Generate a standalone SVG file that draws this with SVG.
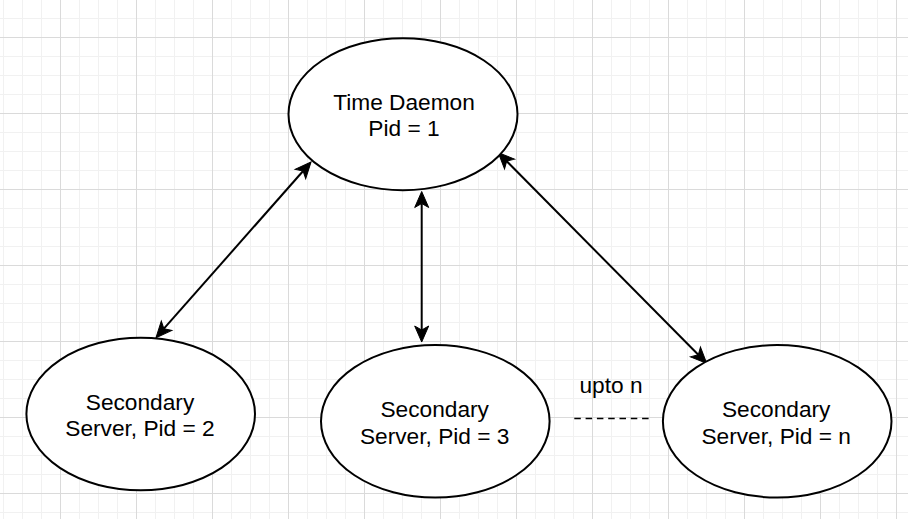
<svg xmlns="http://www.w3.org/2000/svg" width="908" height="519" viewBox="0 0 908 519">
  <defs>
    <pattern id="grid" patternUnits="userSpaceOnUse" x="-16" y="-39" width="76" height="76">
      <path d="M19.5,0V76M38.5,0V76M57.5,0V76M0,19.5H76M0,38.5H76M0,57.5H76" stroke="#f1f1f1" stroke-width="1" fill="none"/>
      <path d="M0.5,0V76M0,0.5H76" stroke="#dadada" stroke-width="1" fill="none"/>
    </pattern>
    <marker id="arrow" markerUnits="userSpaceOnUse" viewBox="-6 -9 20 18" markerWidth="20" markerHeight="18" refX="0" refY="0" orient="auto-start-reverse" overflow="visible">
      <path d="M12,0 L-4,-7 L0,0 L-4,7 Z" fill="#000" stroke="#000" stroke-width="1" stroke-linejoin="miter"/>
    </marker>
    <style>
      .node ellipse { fill: #ffffff; stroke: #000000; stroke-width: 2; }
      .label { font-family: "Liberation Sans", Arial, sans-serif; font-size: 22.7px; fill: #000000; text-anchor: middle; }
      .edge { stroke: #000000; stroke-width: 2; fill: none; marker-start: url(#arrow); marker-end: url(#arrow); }
    </style>
  </defs>
  <rect x="0" y="0" width="908" height="519" fill="#ffffff"/>
  <rect x="0" y="0" width="908" height="519" fill="url(#grid)"/>

  <g id="connectors">
    <line class="edge" x1="163.9" y1="328.7" x2="303.1" y2="171.0"/>
    <line class="edge" x1="421.7" y1="203.5" x2="421.7" y2="330"/>
    <line class="edge" x1="506.7" y1="161.2" x2="698.3" y2="354.8"/>
  </g>

  <g id="time-daemon" class="node">
    <ellipse cx="403" cy="114.2" rx="114.5" ry="76"/>
    <text class="label" x="404" y="110">Time Daemon</text>
    <text class="label" x="404" y="136">Pid = 1</text>
  </g>

  <g id="server-2" class="node">
    <ellipse cx="140.7" cy="414" rx="114.3" ry="76.3"/>
    <text class="label" x="140" y="410">Secondary</text>
    <text class="label" x="140" y="436">Server, Pid = 2</text>
  </g>

  <g id="server-3" class="node">
    <ellipse cx="435.3" cy="421.3" rx="114.3" ry="76.3"/>
    <text class="label" x="434.7" y="417.3">Secondary</text>
    <text class="label" x="434.7" y="444">Server, Pid = 3</text>
  </g>

  <g id="server-n" class="node">
    <ellipse cx="777.2" cy="421.3" rx="114.3" ry="76.3"/>
    <text class="label" x="776.2" y="417.3">Secondary</text>
    <text class="label" x="776.2" y="444">Server, Pid = n</text>
  </g>

  <g id="upto-n">
    <text class="label" x="611" y="392.7">upto n</text>
    <line x1="574.3" y1="418.5" x2="649" y2="418.5" stroke="#000000" stroke-width="1.5" stroke-dasharray="6.5 4.8"/>
  </g>
</svg>
